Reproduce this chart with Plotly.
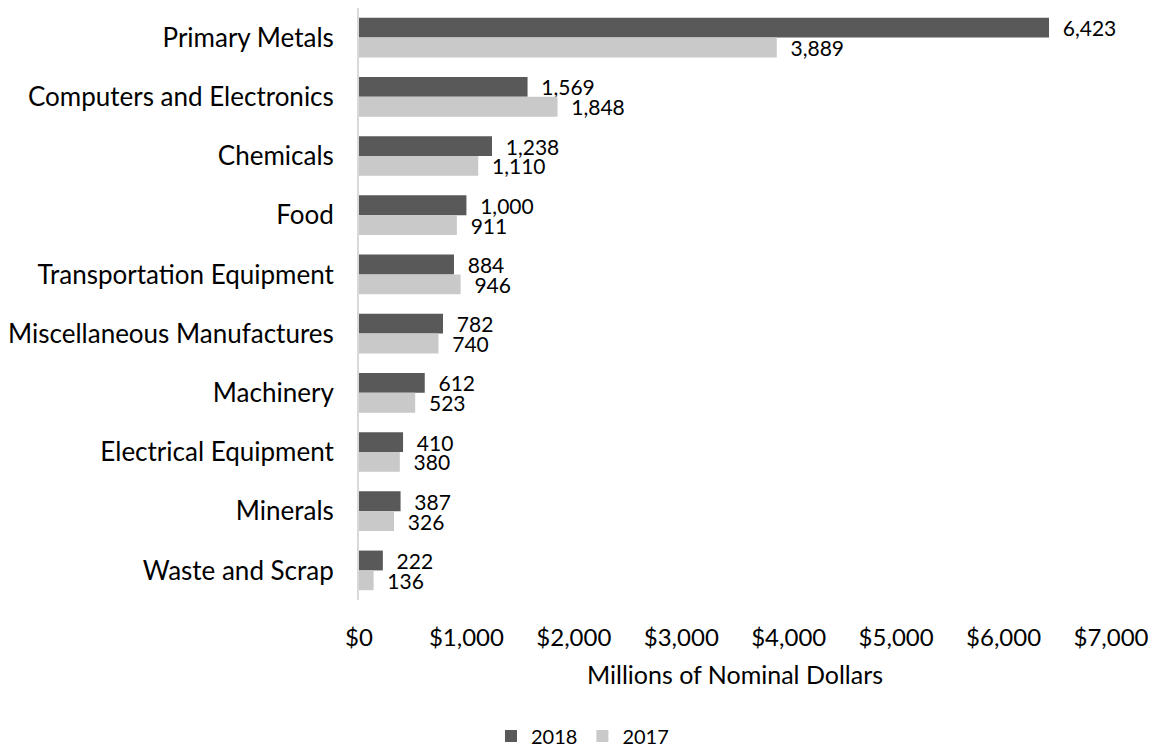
import plotly.graph_objects as go

categories = ["Primary Metals", "Computers and Electronics", "Chemicals", "Food",
              "Transportation Equipment", "Miscellaneous Manufactures", "Machinery",
              "Electrical Equipment", "Minerals", "Waste and Scrap"]
values_2018 = [6423, 1569, 1238, 1000, 884, 782, 612, 410, 387, 222]
values_2017 = [3889, 1848, 1110, 911, 946, 740, 523, 380, 326, 136]
x_ticks = [0, 1000, 2000, 3000, 4000, 5000, 6000, 7000]
x_ticktext = ["${:,}".format(v) for v in x_ticks]

FONT = "Lato"
LABEL_TPL = "\u00a0\u00a0%{x:,}"

fig = go.Figure()
fig.add_trace(go.Bar(y=categories, x=values_2018, name="2018", orientation="h",
                     marker=dict(color="#595959", line=dict(width=0)),
                     texttemplate=LABEL_TPL, textposition="outside",
                     constraintext="none", cliponaxis=False,
                     textfont=dict(family=FONT, size=21, color="#000000")))
fig.add_trace(go.Bar(y=categories, x=values_2017, name="2017", orientation="h",
                     marker=dict(color="#c9c9c9", line=dict(width=0)),
                     texttemplate=LABEL_TPL, textposition="outside",
                     constraintext="none", cliponaxis=False,
                     textfont=dict(family=FONT, size=21, color="#000000")))

# page body has an 8px margin; figure is sized/offset to compensate
fig.update_layout(
    width=1149, height=740,
    margin=dict(l=351, r=46, t=0, b=148),
    barmode="group", bargap=0.33, bargroupgap=0,
    plot_bgcolor="white", paper_bgcolor="white",
    font=dict(family=FONT, size=24, color="#000000"),
    showlegend=True,
    legend=dict(orientation="h", xref="container", yref="container", x=0.5, y=0.0162,
                xanchor="center", yanchor="middle", font=dict(size=20, family=FONT),
                traceorder="normal", itemwidth=30),
)
fig.update_xaxes(range=[0, 7000], tickmode="array", tickvals=x_ticks, ticktext=x_ticktext,
                 showgrid=False, zeroline=False, showline=False, ticks="",
                 tickfont=dict(family=FONT, size=24),
                 ticklabelstandoff=21,
                 title=dict(text="Millions of Nominal Dollars", standoff=16,
                            font=dict(family=FONT, size=25)),
                 automargin=False)
fig.update_yaxes(autorange="reversed", showgrid=False, zeroline=False,
                 showline=True, linecolor="#d9d9d9", linewidth=2, ticks="",
                 tickfont=dict(family=FONT, size=26),
                 ticklabelstandoff=18, automargin=False)

fig.write_html("out.html")
